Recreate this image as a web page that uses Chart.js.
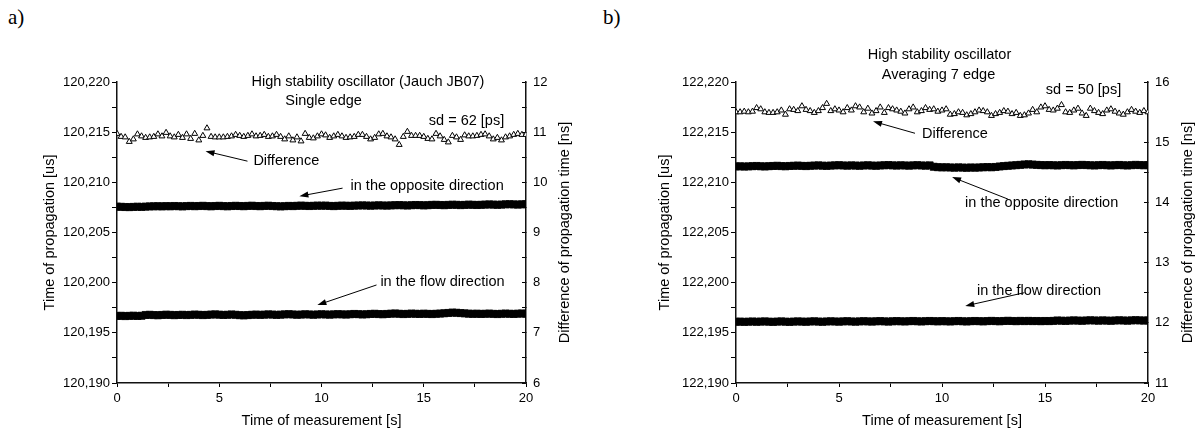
<!DOCTYPE html>
<html>
<head>
<meta charset="utf-8">
<title>Time of propagation</title>
<script src="https://cdn.jsdelivr.net/npm/chart.js@4.4.1/dist/chart.umd.min.js"></script>
<style>
  body { margin: 0; background: #fff; width: 1197px; height: 432px; position: relative; overflow: hidden; }
  canvas { position: absolute; top: 0; }
  #chartA { left: 0; }
  #chartB { left: 598px; }
  .tag { position: absolute; top: 5px; font-family: "Liberation Serif", "Times New Roman", serif; font-size: 21px; }
</style>
</head>
<body>
<div class="tag" style="left:8px">a)</div>
<div class="tag" style="left:603px">b)</div>
<canvas id="chartA" width="598" height="432"></canvas>
<canvas id="chartB" width="599" height="432"></canvas>
<script>
// sampling times [s]
const time = [
  0, 0.2, 0.4, 0.6, 0.8, 1, 1.2, 1.4, 1.6, 1.8,
  2, 2.2, 2.4, 2.6, 2.8, 3, 3.2, 3.4, 3.6, 3.8,
  4, 4.2, 4.4, 4.6, 4.8, 5, 5.2, 5.4, 5.6, 5.8,
  6, 6.2, 6.4, 6.6, 6.8, 7, 7.2, 7.4, 7.6, 7.8,
  8, 8.2, 8.4, 8.6, 8.8, 9, 9.2, 9.4, 9.6, 9.8,
  10, 10.2, 10.4, 10.6, 10.8, 11, 11.2, 11.4, 11.6, 11.8,
  12, 12.2, 12.4, 12.6, 12.8, 13, 13.2, 13.4, 13.6, 13.8,
  14, 14.2, 14.4, 14.6, 14.8, 15, 15.2, 15.4, 15.6, 15.8,
  16, 16.2, 16.4, 16.6, 16.8, 17, 17.2, 17.4, 17.6, 17.8,
  18, 18.2, 18.4, 18.6, 18.8, 19, 19.2, 19.4, 19.6, 19.8,
  20
];

// a) single edge - difference [ns] (right axis)
const diffA = [
  10.97, 10.91, 10.90, 10.81, 10.86, 10.96, 10.92, 10.89, 10.90, 10.91,
  10.96, 10.92, 10.99, 10.92, 10.90, 10.95, 10.89, 10.96, 10.87, 10.97,
  10.84, 10.93, 11.08, 10.91, 10.90, 10.90, 10.90, 10.91, 10.92, 10.95,
  10.93, 10.91, 10.93, 10.96, 10.92, 10.93, 10.95, 10.91, 10.92, 10.95,
  10.91, 10.86, 10.92, 10.84, 10.90, 10.82, 10.97, 10.89, 10.88, 10.92,
  10.96, 10.94, 10.89, 10.92, 10.95, 10.92, 10.89, 10.90, 10.91, 10.95,
  10.95, 10.91, 10.86, 10.89, 10.96, 10.97, 10.92, 10.90, 10.86, 10.75,
  10.91, 11.01, 10.93, 10.93, 10.93, 10.91, 10.87, 10.86, 10.97, 10.92,
  10.85, 10.80, 10.93, 10.90, 10.85, 10.94, 10.92, 10.92, 10.93, 10.95,
  10.96, 10.92, 10.86, 10.89, 10.84, 10.90, 10.92, 10.95, 10.97, 10.95,
  10.95
];
// a) opposite direction [us]
const oppA = [
  120.20758, 120.20756, 120.20754, 120.20753, 120.20755, 120.20757, 120.20755, 120.20758, 120.20760, 120.20761,
  120.20762, 120.20760, 120.20763, 120.20761, 120.20764, 120.20762, 120.20760, 120.20763, 120.20765, 120.20762,
  120.20764, 120.20766, 120.20763, 120.20761, 120.20764, 120.20766, 120.20763, 120.20761, 120.20764, 120.20766,
  120.20764, 120.20762, 120.20765, 120.20767, 120.20764, 120.20762, 120.20765, 120.20767, 120.20764, 120.20762,
  120.20760, 120.20762, 120.20765, 120.20763, 120.20766, 120.20768, 120.20766, 120.20764, 120.20766, 120.20768,
  120.20767, 120.20768, 120.20765, 120.20763, 120.20766, 120.20768, 120.20767, 120.20765, 120.20768, 120.20769,
  120.20770, 120.20769, 120.20767, 120.20769, 120.20771, 120.20769, 120.20768, 120.20770, 120.20772, 120.20773,
  120.20771, 120.20769, 120.20772, 120.20774, 120.20773, 120.20770, 120.20772, 120.20775, 120.20776, 120.20774,
  120.20772, 120.20775, 120.20777, 120.20776, 120.20773, 120.20775, 120.20778, 120.20776, 120.20774, 120.20776,
  120.20778, 120.20780, 120.20778, 120.20776, 120.20778, 120.20781, 120.20782, 120.20780, 120.20778, 120.20781,
  120.20782
];
// a) flow direction [us]
const flowA = [
  120.19668, 120.19670, 120.19667, 120.19669, 120.19671, 120.19668, 120.19670, 120.19678, 120.19680, 120.19677,
  120.19675, 120.19678, 120.19681, 120.19679, 120.19676, 120.19678, 120.19680, 120.19677, 120.19679, 120.19682,
  120.19680, 120.19677, 120.19679, 120.19682, 120.19684, 120.19681, 120.19678, 120.19680, 120.19683, 120.19680,
  120.19676, 120.19674, 120.19677, 120.19680, 120.19682, 120.19679, 120.19681, 120.19684, 120.19682, 120.19679,
  120.19681, 120.19684, 120.19686, 120.19683, 120.19680, 120.19682, 120.19685, 120.19683, 120.19680, 120.19683,
  120.19685, 120.19683, 120.19681, 120.19684, 120.19686, 120.19684, 120.19682, 120.19685, 120.19688, 120.19686,
  120.19683, 120.19685, 120.19688, 120.19690, 120.19687, 120.19685, 120.19688, 120.19691, 120.19693, 120.19690,
  120.19687, 120.19689, 120.19692, 120.19690, 120.19688, 120.19691, 120.19689, 120.19687, 120.19690, 120.19692,
  120.19695, 120.19698, 120.19702, 120.19700, 120.19697, 120.19694, 120.19691, 120.19689, 120.19691, 120.19688,
  120.19690, 120.19692, 120.19689, 120.19687, 120.19690, 120.19692, 120.19690, 120.19688, 120.19691, 120.19693,
  120.19690
];

// b) averaging 7 edge - difference [ns] (right axis)
const diffB = [
  15.50, 15.50, 15.51, 15.50, 15.51, 15.57, 15.55, 15.50, 15.49, 15.49,
  15.50, 15.53, 15.46, 15.55, 15.54, 15.52, 15.60, 15.54, 15.52, 15.49,
  15.52, 15.57, 15.64, 15.52, 15.55, 15.53, 15.50, 15.57, 15.53, 15.60,
  15.58, 15.50, 15.56, 15.48, 15.52, 15.58, 15.49, 15.57, 15.55, 15.53,
  15.51, 15.48, 15.55, 15.58, 15.50, 15.52, 15.57, 15.54, 15.55, 15.51,
  15.53, 15.55, 15.46, 15.47, 15.50, 15.49, 15.45, 15.47, 15.50, 15.53,
  15.52, 15.50, 15.44, 15.47, 15.49, 15.52, 15.51, 15.47, 15.49, 15.44,
  15.45, 15.48, 15.54, 15.50, 15.58, 15.60, 15.54, 15.53, 15.56, 15.62,
  15.50, 15.49, 15.53, 15.56, 15.48, 15.44, 15.56, 15.52, 15.49, 15.47,
  15.53, 15.55, 15.51, 15.48, 15.46, 15.50, 15.54, 15.51, 15.49, 15.52,
  15.50
];
// b) opposite direction [us]
const oppB = [
  122.21158, 122.21160, 122.21157, 122.21159, 122.21161, 122.21163, 122.21160, 122.21158, 122.21161, 122.21163,
  122.21165, 122.21162, 122.21160, 122.21163, 122.21165, 122.21167, 122.21164, 122.21162, 122.21165, 122.21167,
  122.21169, 122.21166, 122.21164, 122.21167, 122.21169, 122.21171, 122.21168, 122.21166, 122.21169, 122.21167,
  122.21165, 122.21168, 122.21170, 122.21167, 122.21165, 122.21168, 122.21170, 122.21172, 122.21169, 122.21167,
  122.21170, 122.21168, 122.21166, 122.21169, 122.21171, 122.21168, 122.21166, 122.21169, 122.21155, 122.21151,
  122.21149, 122.21150, 122.21148, 122.21146, 122.21149, 122.21147, 122.21145, 122.21148, 122.21146, 122.21148,
  122.21150, 122.21152, 122.21150, 122.21153, 122.21158, 122.21162, 122.21165, 122.21168, 122.21171, 122.21174,
  122.21178, 122.21180, 122.21177, 122.21174, 122.21172, 122.21170, 122.21172, 122.21170, 122.21168, 122.21171,
  122.21173, 122.21171, 122.21169, 122.21172, 122.21174, 122.21172, 122.21170, 122.21168, 122.21171, 122.21173,
  122.21170, 122.21168, 122.21171, 122.21173, 122.21170, 122.21168, 122.21171, 122.21174, 122.21172, 122.21170,
  122.21172
];
// b) flow direction [us]
const flowB = [
  122.19610, 122.19612, 122.19609, 122.19611, 122.19613, 122.19610, 122.19612, 122.19614, 122.19611, 122.19609,
  122.19612, 122.19614, 122.19611, 122.19609, 122.19612, 122.19614, 122.19612, 122.19610, 122.19613, 122.19615,
  122.19612, 122.19610, 122.19613, 122.19615, 122.19613, 122.19611, 122.19614, 122.19616, 122.19613, 122.19611,
  122.19614, 122.19616, 122.19614, 122.19612, 122.19615, 122.19617, 122.19614, 122.19612, 122.19615, 122.19617,
  122.19615, 122.19613, 122.19616, 122.19618, 122.19615, 122.19613, 122.19616, 122.19618, 122.19616, 122.19614,
  122.19617, 122.19615, 122.19613, 122.19616, 122.19618, 122.19615, 122.19613, 122.19616, 122.19618, 122.19616,
  122.19614, 122.19617, 122.19619, 122.19617, 122.19615, 122.19618, 122.19620, 122.19618, 122.19616, 122.19619,
  122.19617, 122.19619, 122.19617, 122.19618, 122.19616, 122.19618, 122.19617, 122.19619, 122.19623, 122.19621,
  122.19619, 122.19622, 122.19624, 122.19622, 122.19620, 122.19623, 122.19625, 122.19623, 122.19621, 122.19624,
  122.19622, 122.19620, 122.19623, 122.19625, 122.19623, 122.19621, 122.19624, 122.19626, 122.19624, 122.19622,
  122.19624
];

const FONT = '"Liberation Sans", Arial, sans-serif';

// text labels + arrows, placed in data units (x in s, y on the left axis);
// also the right axis title, which reads bottom-to-top like the left one
const notePlugin = {
  id: 'notes',
  afterDraw(chart, args, opts) {
    const ctx = chart.ctx;
    const xs = chart.scales.x, ys = chart.scales.yL, yr = chart.scales.yR;
    const area = chart.chartArea;
    ctx.save();
    ctx.fillStyle = '#000';
    ctx.strokeStyle = '#000';
    ctx.lineWidth = 1;
    ctx.font = '14.5px ' + FONT;
    ctx.textBaseline = 'middle';

    ctx.save();
    ctx.translate(yr.right - opts.rTitleOff, (area.top + area.bottom) / 2);
    ctx.rotate(-Math.PI / 2);
    ctx.textAlign = 'center';
    ctx.fillText('Difference of propagation time [ns]', 0, 0);
    ctx.restore();

    opts.labels.forEach(n => {
      ctx.textAlign = n.align;
      ctx.fillText(n.text, xs.getPixelForValue(n.x), ys.getPixelForValue(n.y));
    });
    opts.arrows.forEach(a => {
      const x0 = xs.getPixelForValue(a.from[0]), y0 = ys.getPixelForValue(a.from[1]);
      const x1 = xs.getPixelForValue(a.to[0]), y1 = ys.getPixelForValue(a.to[1]);
      const c = Math.cos(Math.atan2(y1 - y0, x1 - x0)), s = Math.sin(Math.atan2(y1 - y0, x1 - x0));
      ctx.beginPath();
      ctx.moveTo(x0, y0);
      ctx.lineTo(x1 - 6 * c, y1 - 6 * s);
      ctx.stroke();
      ctx.beginPath();   // arrow head
      ctx.moveTo(x1, y1);
      ctx.lineTo(x1 - 9 * c + 3 * s, y1 - 9 * s - 3 * c);
      ctx.lineTo(x1 - 9 * c - 3 * s, y1 - 9 * s + 3 * c);
      ctx.closePath();
      ctx.fill();
    });
    ctx.restore();
  }
};

function usLabel(v) {
  const k = Math.round(v * 10000);
  return k % 50 === 0 ? (k / 10000).toFixed(3).replace('.', ',') : '';
}

function axisBits(tickLength) {
  return {
    grid: { display: true, drawOnChartArea: false, drawTicks: true, tickLength: tickLength, color: '#000' },
    border: { display: true, color: '#111', width: 1.5 }
  };
}
const titleFont = { family: FONT, size: 14.5 };

function makeChart(id, p) {
  const pts = ys => time.map((t, i) => ({ x: t, y: ys[i] }));
  return new Chart(document.getElementById(id), {
    type: 'scatter',
    data: {
      datasets: [
        { label: 'Difference', data: pts(p.diff), yAxisID: 'yR',
          pointStyle: 'triangle', pointRadius: 3.4, backgroundColor: '#fff', borderColor: '#000', borderWidth: 1 },
        { label: 'in the opposite direction', data: pts(p.opp), yAxisID: 'yL', clip: 0,
          pointStyle: 'rect', pointRadius: 5, backgroundColor: '#000', borderColor: '#000', borderWidth: 0.8 },
        { label: 'in the flow direction', data: pts(p.flow), yAxisID: 'yL', clip: 0,
          pointStyle: 'rect', pointRadius: 5, backgroundColor: '#000', borderColor: '#000', borderWidth: 0.8 }
      ]
    },
    options: {
      responsive: false,
      animation: false,
      devicePixelRatio: 1,
      layout: { padding: { top: 82 } },
      plugins: {
        legend: { display: false },
        tooltip: { enabled: false },
        notes: { labels: p.labels, arrows: p.arrows, rTitleOff: p.rTitleOff }
      },
      scales: {
        x: {
          type: 'linear', min: 0, max: 20,
          ...axisBits(4),
          title: { display: true, text: 'Time of measurement [s]', color: '#000', font: titleFont, padding: { top: 0, bottom: 2 } },
          ticks: { stepSize: 2.5, autoSkip: false, maxRotation: 0, padding: 4, color: '#000',
                   font: { family: FONT, size: 13 },
                   callback: v => (v % 5 === 0 ? String(v) : '') },
          afterFit: s => { s.height = 49; }
        },
        yL: {
          type: 'linear', position: 'left', min: p.lMin, max: p.lMax,
          ...axisBits(5),
          title: { display: true, text: 'Time of propagation [us]', color: '#000', font: titleFont, padding: { top: p.lPad, bottom: 0 } },
          ticks: { stepSize: 0.0025, autoSkip: false, padding: 2, color: '#000',
                   font: { family: FONT, size: 13 }, callback: usLabel },
          afterFit: s => { s.width = p.leftW; }
        },
        yR: {
          type: 'linear', position: 'right', min: p.rMin, max: p.rMax,
          ...axisBits(-4),   // ticks point into the plot on this side
          ticks: { stepSize: 0.5, autoSkip: false, padding: 11, color: '#000',
                   font: { family: FONT, size: 13 },
                   callback: v => (Number.isInteger(v) ? String(v) : '') },
          afterFit: s => { s.width = p.rightW; }
        }
      }
    },
    plugins: [notePlugin]
  });
}

makeChart('chartA', {
  diff: diffA, opp: oppA, flow: flowA,
  lMin: 120.190, lMax: 120.220, rMin: 6, rMax: 12,
  leftW: 117, rightW: 72, lPad: 41, rTitleOff: 33,
  labels: [
    { text: 'High stability oscillator (Jauch JB07)', x: 12.27, y: 120.22000, align: 'center' },
    { text: 'Single edge', x: 10.10, y: 120.21808, align: 'center' },
    { text: 'sd = 62 [ps]', x: 17.09, y: 120.21609, align: 'center' },
    { text: 'Difference', x: 6.67, y: 120.21211, align: 'left' },
    { text: 'in the opposite direction', x: 11.42, y: 120.20962, align: 'left' },
    { text: 'in the flow direction', x: 12.88, y: 120.20007, align: 'left' }
  ],
  arrows: [
    { from: [6.38, 120.21211], to: [4.33, 120.21311] },
    { from: [11.03, 120.20942], to: [8.92, 120.20862] },
    { from: [12.69, 120.19977], to: [9.80, 120.19777] }
  ]
});

makeChart('chartB', {
  diff: diffB, opp: oppB, flow: flowB,
  lMin: 122.190, lMax: 122.220, rMin: 11, rMax: 16,
  leftW: 138, rightW: 49, lPad: 58, rTitleOff: 9,
  labels: [
    { text: 'High stability oscillator', x: 9.88, y: 122.22266, align: 'center' },
    { text: 'Averaging 7 edge', x: 9.83, y: 122.22067, align: 'center' },
    { text: 'sd = 50 [ps]', x: 16.87, y: 122.21917, align: 'center' },
    { text: 'Difference', x: 9.03, y: 122.21480, align: 'left' },
    { text: 'in the opposite direction', x: 11.12, y: 122.20793, align: 'left' },
    { text: 'in the flow direction', x: 11.70, y: 122.19917, align: 'left' }
  ],
  arrows: [
    { from: [8.69, 122.21489], to: [6.65, 122.21608] },
    { from: [13.20, 122.20833], to: [10.49, 122.21052] },
    { from: [14.00, 122.19900], to: [11.13, 122.19768] }
  ]
});
</script>
</body>
</html>
